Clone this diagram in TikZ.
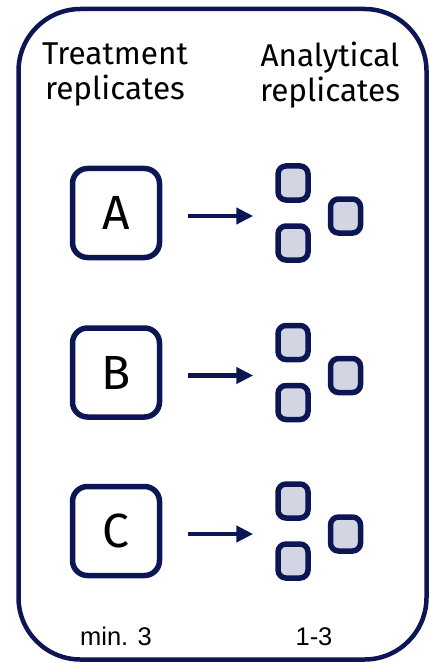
\documentclass[tikz,border=0pt]{standalone}
\usepackage{fontspec}
\setmainfont{Fira Sans}
\newfontfamily\arialf{Liberation Sans}
\usetikzlibrary{arrows.meta}
\definecolor{navy}{HTML}{0D1654}
\definecolor{sqfill}{HTML}{D3D5E2}
\tikzset{
  frame/.style={draw=navy, line width=4.5pt, rounded corners=62pt},
  heading/.style={inner sep=0pt, align=center, font=\fontsize{31.5}{35}\selectfont, anchor=north},
  treatbox/.style={draw=navy, line width=5.5pt, rounded corners=15pt, minimum width=87pt, minimum height=89pt, inner sep=0pt, font=\fontsize{48}{52}\selectfont},
  anabox/.style={draw=navy, fill=sqfill, line width=5.5pt, rounded corners=8pt, minimum width=30pt, minimum height=34pt, inner sep=0pt},
  conn/.style={draw=navy, line width=4.5pt, -{Triangle[length=17pt,width=16pt]}},
  foot/.style={inner sep=0pt, anchor=base, font=\arialf\fontsize{25.5}{28}\selectfont}
}
\begin{document}
\begin{tikzpicture}[x=1pt,y=-1pt]
\useasboundingbox (0,0) rectangle (429,663);
\draw[frame] (18.5,9) rectangle (426.5,659.5);
\node[heading] (h1) at (115,43) {Treatment\\replicates};
\node[heading] (h2) at (330,42) {Analytical\\replicates};
\foreach \n/\c in {A/213,B/372.5,C/531}{
  \node[treatbox] (\n) at (116,\c) {\n};
  \node[anabox] (\n1) at (293,\c-30) {};
  \node[anabox] (\n2) at (293,\c+30) {};
  \node[anabox] (\n3) at (345.5,\c+3) {};
  \draw[conn, shorten <=26pt, shorten >=22pt] ([yshift=-3pt]\n.east) -- ([yshift=-3pt]\n.east -| \n1.west);
}
\node[foot] (f1) at (116,645) {min. 3};
\node[foot] (f2) at (314,645) {1-3};
\end{tikzpicture}
\end{document}
